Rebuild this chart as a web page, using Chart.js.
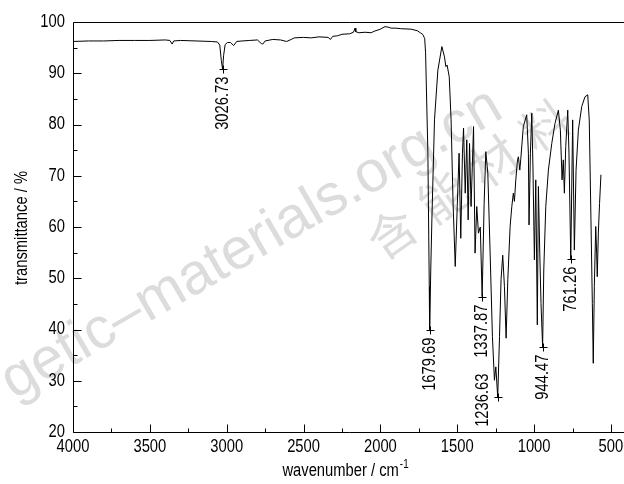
<!DOCTYPE html>
<html>
<head>
<meta charset="utf-8">
<script src="https://cdn.jsdelivr.net/npm/chart.js@4"></script>
<style>
  html, body { margin: 0; padding: 0; background: #fff; overflow: hidden; }
  #ir { display: block; }
</style>
</head>
<body>
<canvas id="ir" width="624" height="484"></canvas>
<script>
// --- dados do espectro ---
const wavenumbers = [
  4000, 3900, 3800, 3700, 3600, 3500, 3400, 3370, 3355, 3345, 3300, 3200, 3100, 3060, 3045, 3035,
  3026.7, 3020, 3010, 2995, 2975, 2955, 2935, 2900, 2850, 2800, 2775, 2765, 2750, 2700, 2650, 2610,
  2580, 2560, 2500, 2450, 2400, 2340, 2325, 2310, 2280, 2250, 2200, 2175, 2165, 2160, 2140, 2100,
  2060, 2040, 2000, 1970, 1950, 1930, 1900, 1870, 1800, 1760, 1740, 1725, 1712, 1706, 1691, 1682,
  1679.7, 1672, 1665, 1648, 1626, 1600, 1583, 1574, 1566, 1552, 1540, 1527, 1513, 1500, 1488, 1477,
  1466, 1459, 1448, 1438, 1429, 1420, 1410, 1394, 1384, 1373, 1362, 1350, 1337.9, 1325, 1314, 1301,
  1286, 1271, 1258, 1249, 1236.6, 1225, 1215, 1204, 1193, 1182, 1171, 1156, 1145, 1135, 1128, 1119,
  1108, 1102, 1093, 1087, 1070, 1048, 1037, 1033, 1024, 1015, 1007, 998, 989, 979, 972, 963,
  955, 944.5, 937, 924, 907, 885, 864, 842, 829, 818, 810, 803, 794, 781, 773, 761.3,
  749, 738, 727, 712, 690, 669, 651, 641, 630, 621, 615, 608, 599, 593, 589, 582,
  574, 565
];
const transmittance = [
  96.2, 96.3, 96.3, 96.4, 96.4, 96.4, 96.5, 96.4, 95.7, 96.3, 96.4, 96.3, 96.2, 96.1, 95.5, 92.5,
  90.8, 93.5, 95.6, 96.0, 96.0, 95.4, 96.2, 96.3, 96.4, 96.5, 95.8, 95.7, 96.3, 96.6, 96.5, 96.2,
  96.6, 96.9, 97.0, 96.9, 97.1, 97.0, 96.6, 97.2, 97.3, 97.6, 97.7, 98.0, 98.8, 98.1, 97.9, 98.0,
  97.9, 98.2, 98.6, 99.1, 99.0, 98.8, 98.8, 98.7, 98.6, 98.3, 97.9, 97.6, 96.8, 94.0, 74.4, 48.4,
  40.0, 52.0, 61.4, 80.9, 90.6, 95.2, 93.2, 91.3, 91.6, 89.3, 80.9, 64.6, 52.3, 64.0, 74.4, 57.8,
  74.4, 79.3, 66.6, 77.0, 61.4, 76.3, 64.0, 79.6, 54.9, 64.0, 58.8, 60.0, 46.4, 64.6, 74.7, 70.5,
  54.9, 38.6, 30.1, 32.7, 26.8, 38.6, 49.7, 54.5, 48.4, 38.3, 49.7, 60.1, 64.0, 66.6, 65.0, 69.2,
  73.1, 73.7, 71.1, 73.1, 79.6, 81.9, 74.4, 60.4, 74.4, 82.2, 71.1, 53.6, 69.2, 40.9, 67.9, 54.9,
  45.1, 36.6, 51.6, 64.0, 71.1, 76.3, 80.2, 82.8, 78.9, 69.2, 73.1, 66.6, 75.7, 82.8, 74.4, 53.7,
  80.9, 55.5, 71.1, 78.9, 83.5, 85.4, 85.8, 80.9, 61.4, 45.1, 33.4, 48.4, 60.1, 54.9, 50.3, 58.8,
  64.6, 70.2
];

// picos marcados
const peakWavenumbers = [3026.73, 1679.69, 1337.87, 1236.63, 944.47, 761.26];
const peakTransmittance = [90.8, 40.0, 46.4, 26.8, 36.6, 53.7];

// ticks
const xMajorTicks = [4000, 3500, 3000, 2500, 2000, 1500, 1000, 500];
const xMinorTicks = [3750, 3250, 2750, 2250, 1750, 1250, 750];
const yMajorTicks = [20, 30, 40, 50, 60, 70, 80, 90, 100];
const yMinorTicks = [25, 35, 45, 55, 65, 75, 85, 95];

// Arial Narrow não existe aqui: Liberation Sans comprimida na horizontal
const FONT = "'Liberation Sans', Arial, sans-serif";
const NARROW = 0.82;

const spectrum = wavenumbers.map((w, i) => ({ x: w, y: transmittance[i] }));

function narrowText(ctx, text, x, y, opts) {
  ctx.save();
  ctx.font = (opts.size || 18) + 'px ' + FONT;
  ctx.textAlign = opts.align || 'left';
  ctx.textBaseline = opts.baseline || 'alphabetic';
  ctx.translate(x, y);
  if (opts.rotate) ctx.rotate(opts.rotate);
  ctx.scale(NARROW, 1);
  ctx.fillText(text, 0, 0);
  ctx.restore();
}

// --- plugin: fundo, marca d'água, moldura, ticks internos, rótulos ---
const irDecor = {
  id: 'irDecor',
  beforeDraw(chart) {
    const ctx = chart.ctx;
    ctx.save();
    ctx.fillStyle = '#fff';
    ctx.fillRect(0, 0, chart.width, chart.height);

    // marca d'água
    ctx.fillStyle = '#dcdcdc';
    ctx.translate(14, 400);
    ctx.rotate(-30 * Math.PI / 180);
    ctx.font = "58px 'Liberation Sans', Arial, sans-serif";
    ctx.fillText('getic–materials.org.cn', 0, 0);
    ctx.restore();

    const cn = ['含', '能', '材', '料'];
    ctx.save();
    ctx.fillStyle = '#dcdcdc';
    ctx.font = "48px 'Noto Sans CJK SC', sans-serif";
    ctx.textAlign = 'center';
    ctx.textBaseline = 'middle';
    cn.forEach((c, i) => {
      ctx.save();
      ctx.translate(392 + i * 51, 233 - i * 36);
      ctx.rotate(-35 * Math.PI / 180);
      ctx.fillText(c, 0, 0);
      ctx.restore();
    });
    ctx.restore();
  },
  afterDraw(chart) {
    const ctx = chart.ctx;
    const a = chart.chartArea;
    const xs = chart.scales.x;
    const ys = chart.scales.y;
    ctx.save();
    ctx.strokeStyle = '#000';
    ctx.fillStyle = '#000';
    ctx.lineWidth = 1;

    // moldura
    const L = Math.round(a.left) + 0.5, T = Math.round(a.top) + 0.5, B = Math.round(a.bottom) + 0.5;
    ctx.beginPath();
    ctx.moveTo(L, B);
    ctx.lineTo(L, T);
    ctx.lineTo(a.right + 2, T);
    ctx.moveTo(L, B);
    ctx.lineTo(a.right + 2, B);
    ctx.stroke();

    // ticks para dentro
    ctx.beginPath();
    const tickX = (v, len) => {
      const px = Math.round(xs.getPixelForValue(v)) + 0.5;
      ctx.moveTo(px, B);
      ctx.lineTo(px, B - len);
    };
    const tickY = (v, len) => {
      const py = Math.round(ys.getPixelForValue(v)) + 0.5;
      ctx.moveTo(L, py);
      ctx.lineTo(L + len, py);
    };
    xMajorTicks.forEach(v => tickX(v, 8));
    xMinorTicks.forEach(v => tickX(v, 4));
    yMajorTicks.forEach(v => tickY(v, 8));
    yMinorTicks.forEach(v => tickY(v, 4));
    ctx.stroke();

    // rótulos dos ticks, a partir dos ticks da própria escala
    xs.ticks.forEach(t => {
      narrowText(ctx, String(t.value), xs.getPixelForValue(t.value), 447, { align: 'center', baseline: 'middle' });
    });
    ys.ticks.forEach(t => {
      narrowText(ctx, String(t.value), 65, ys.getPixelForValue(t.value), { align: 'right', baseline: 'middle' });
    });

    // marcadores dos picos
    peakWavenumbers.forEach((w, i) => {
      const px = Math.round(xs.getPixelForValue(w)) + 0.5;
      const py = Math.round(ys.getPixelForValue(peakTransmittance[i])) + 0.5;
      ctx.beginPath();
      ctx.moveTo(px - 4, py);
      ctx.lineTo(px + 4, py);
      ctx.moveTo(px, py - 4);
      ctx.lineTo(px, py + 4);
      ctx.stroke();
      // 1236.63 fica deslocado para a esquerda no original
      const off = w === 1236.63 ? { dx: -15, dy: -24 } : { dx: 0, dy: 7 };
      narrowText(ctx, w.toFixed(2), px + off.dx, py + off.dy,
        { align: 'right', baseline: 'middle', rotate: -Math.PI / 2 });
    });

    // títulos dos eixos
    const main = 'wavenumber / cm';
    ctx.font = '18px ' + FONT;
    const w1 = ctx.measureText(main).width * NARROW;
    ctx.font = '12px ' + FONT;
    const w2 = ctx.measureText('-1').width * NARROW;
    const x0 = 345 - (w1 + w2) / 2;
    narrowText(ctx, main, x0, 476, { align: 'left' });
    narrowText(ctx, '-1', x0 + w1 + 1, 468, { align: 'left', size: 12 });

    narrowText(ctx, 'transmittance / %', 22, 228,
      { align: 'center', baseline: 'middle', rotate: -Math.PI / 2 });

    ctx.restore();
  }
};

const irCanvas = document.getElementById('ir');
new Chart(irCanvas, {
  type: 'line',
  data: {
    datasets: [{
      data: spectrum,
      borderColor: '#000',
      borderWidth: 1,
      pointRadius: 0,
      tension: 0,
      fill: false
    }]
  },
  options: {
    responsive: false,
    animation: false,
    devicePixelRatio: 1,
    layout: { padding: { top: 22, right: 0, left: 0, bottom: 0 } },
    plugins: {
      legend: { display: false },
      tooltip: { enabled: false }
    },
    scales: {
      x: {
        type: 'linear',
        reverse: true,
        min: 415,
        max: 4000,
        afterBuildTicks: (scale) => { scale.ticks = xMajorTicks.map(v => ({ value: v })); },
        afterFit: (scale) => { scale.height = 52; },
        grid: { display: false, drawTicks: false },
        border: { display: false },
        ticks: { display: false }
      },
      y: {
        min: 20,
        max: 100,
        afterBuildTicks: (scale) => { scale.ticks = yMajorTicks.map(v => ({ value: v })); },
        afterFit: (scale) => { scale.width = 73; },
        grid: { display: false, drawTicks: false },
        border: { display: false },
        ticks: { display: false }
      }
    }
  },
  plugins: [irDecor]
});
</script>
</body>
</html>
